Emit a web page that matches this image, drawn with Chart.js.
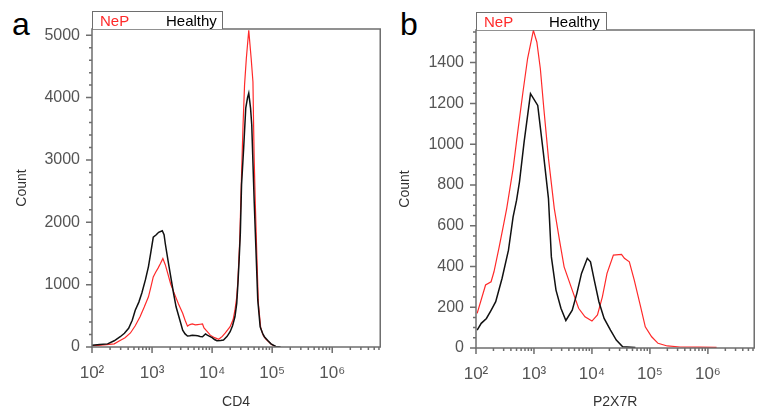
<!DOCTYPE html>
<html lang="en">
<head>
<meta charset="UTF-8">
<title>CD4 / P2X7R histograms</title>
<script src="https://cdn.jsdelivr.net/npm/chart.js"></script>
<style>
  body { margin: 0; width: 758px; height: 412px; overflow: hidden; background: #fff; position: relative;
         font-family: "Liberation Sans", Arial, sans-serif; }
  .panel { position: absolute; top: 0; height: 412px; }
  .tag { position: absolute; top: 8px; font-size: 32px; line-height: 32px; color: #000; }
  .legend { position: absolute; width: 129px; height: 17px; border: 1.5px solid #6e6e6e; border-bottom: none;
            font-size: 15px; line-height: 18px; background: #fff; }
  .legend span { position: absolute; top: 0; }
  .nep { color: #ff2a2a; }
</style>
</head>
<body>

<div class="tag" style="left:12px;">a</div>
<div class="tag" style="left:400px;">b</div>

<div class="panel" style="left:0; width:395px;"><canvas id="chartA" width="395" height="412"></canvas></div>
<div class="panel" style="left:390px; width:379px;"><canvas id="chartB" width="379" height="412"></canvas></div>

<div class="legend" style="left:92px; top:11px;"><span class="nep" style="left:7px;">NeP</span><span style="left:73px;">Healthy</span></div>
<div class="legend" style="left:476px; top:12px;"><span class="nep" style="left:7px;">NeP</span><span style="left:72px;">Healthy</span></div>

<script>
// ---- data (x given as log10 of intensity) ----
const cd4HealthyExp = [2.00, 2.13, 2.26, 2.37, 2.47, 2.54, 2.61, 2.67, 2.72, 2.78, 2.83, 2.89, 2.94, 2.98, 3.02, 3.07, 3.11, 3.17, 3.20, 3.22,
  3.27, 3.32, 3.36, 3.40, 3.46, 3.51, 3.55, 3.59, 3.63, 3.67, 3.72, 3.76, 3.80, 3.84, 3.89, 3.92, 3.96, 4.00, 4.04, 4.08,
  4.14, 4.19, 4.25, 4.30, 4.34, 4.38, 4.41, 4.43, 4.45, 4.47, 4.49, 4.525, 4.56, 4.59, 4.61, 4.625, 4.64, 4.66, 4.69, 4.70,
  4.73, 4.76, 4.80, 4.84, 4.87, 4.93, 4.98, 5.06, 5.14];
const cd4HealthyCount = [30, 40, 50, 100, 165, 220, 300, 430, 590, 720, 865, 1080, 1290, 1520, 1760, 1800, 1840, 1865, 1800, 1660,
  1360, 1075, 850, 645, 440, 270, 210, 176, 180, 190, 185, 180, 170, 165, 210, 190, 170, 150, 120, 100,
  105, 112, 170, 245, 340, 485, 700, 1020, 1400, 1830, 2600, 3185, 3830, 4000, 4070, 3950, 3830, 3560, 2650, 2355,
  1555, 755, 325, 220, 165, 100, 50, 8, 0];

const cd4NepExp = [2.00, 2.10, 2.20, 2.37, 2.46, 2.55, 2.64, 2.72, 2.80, 2.87, 2.94, 2.98, 3.02, 3.06, 3.10, 3.14, 3.18, 3.22, 3.26, 3.31,
  3.37, 3.44, 3.51, 3.55, 3.59, 3.63, 3.67, 3.72, 3.76, 3.80, 3.84, 3.865, 3.92, 3.97, 4.04, 4.11, 4.17, 4.22, 4.30, 4.35,
  4.38, 4.41, 4.43, 4.46, 4.49, 4.515, 4.54, 4.57, 4.61, 4.65, 4.68, 4.69, 4.70, 4.72, 4.75, 4.77, 4.81, 4.85, 4.89, 4.99,
  5.06, 5.12];
const cd4NepCount = [20, 25, 35, 50, 100, 150, 225, 340, 485, 640, 805, 960, 1125, 1200, 1265, 1340, 1420, 1320, 1185, 1010,
  860, 690, 540, 430, 335, 360, 370, 355, 360, 365, 370, 305, 245, 190, 150, 123, 170, 225, 325, 440,
  590, 800, 1075, 1715, 2760, 3560, 4200, 4630, 5080, 4630, 4250, 3610, 3030, 2275, 1300, 700, 300, 190, 130, 40,
  5, 0];

const p2x7rHealthyExp = [2.02, 2.09, 2.18, 2.26, 2.34, 2.45, 2.56, 2.64, 2.70, 2.75, 2.83, 2.94, 3.065, 3.16, 3.25, 3.30, 3.38, 3.465, 3.55, 3.66,
  3.74, 3.82, 3.92, 3.975, 4.04, 4.12, 4.21, 4.32, 4.42, 4.53, 4.75];
const p2x7rHealthyCount = [88, 121, 145, 185, 227, 342, 480, 643, 725, 815, 1011, 1248, 1190, 962, 733, 447, 284, 195, 135, 186,
  268, 366, 440, 423, 333, 227, 145, 88, 39, 6, 3];

const p2x7rNepExp = [2.02, 2.165, 2.26, 2.31, 2.40, 2.48, 2.53, 2.64, 2.72, 2.81, 2.89, 2.99, 3.05, 3.11, 3.17, 3.25, 3.35, 3.44, 3.52, 3.66,
  3.77, 3.88, 4.00, 4.095, 4.18, 4.26, 4.37, 4.51, 4.56, 4.645, 4.73, 4.84, 4.92, 5.03, 5.14, 5.30, 5.52, 5.85, 6.15];
const p2x7rNepCount = [170, 309, 325, 374, 496, 611, 685, 880, 1060, 1256, 1420, 1558, 1500, 1370, 1175, 930, 685, 529, 398, 284,
  195, 153, 132, 162, 251, 366, 456, 459, 440, 423, 333, 202, 104, 55, 23, 10, 5, 4, 3];

// ---- axes ----
const xMin = 100, xMax = 6.3e6;
const xDecades = [1e2, 1e3, 1e4, 1e5, 1e6];
const xTickLabels = ['10\u00B2', '10\u00B3', '10\u2074', '10\u2075', '10\u2076'];
const countMaxA = 5100, countStepA = 1000, countMinorA = 200;
const countMaxB = 1560, countStepB = 200, countMinorB = 50;

const red = '#ff2a2a', black = '#111';
const frameColor = '#6e6e6e';

function points(exps, counts) {
  return exps.map((e, i) => ({ x: Math.pow(10, e), y: counts[i] }));
}

// frame around the plot + long/short tick marks, all taken from the scales
const frameAndTicks = {
  id: 'frameAndTicks',
  afterDatasetsDraw(chart) {
    const { ctx, chartArea: a, scales: { x, y } } = chart;
    ctx.save();
    ctx.strokeStyle = frameColor;
    ctx.lineWidth = 1.5;
    ctx.strokeRect(a.left, a.top, a.right - a.left, a.bottom - a.top);
    ctx.beginPath();
    x.ticks.forEach(t => {
      const px = x.getPixelForValue(t.value);
      ctx.moveTo(px, a.bottom);
      ctx.lineTo(px, a.bottom + (t.major ? 6 : 3));
    });
    y.ticks.forEach(t => {
      const py = y.getPixelForValue(t.value);
      ctx.moveTo(a.left, py);
      ctx.lineTo(a.left - (t.major ? 6 : 3), py);
    });
    ctx.stroke();
    ctx.restore();
  }
};

function makeChart(id, healthy, nep, opts) {
  return new Chart(document.getElementById(id), {
    type: 'line',
    data: {
      datasets: [
        { label: 'Healthy', data: healthy, borderColor: black, borderWidth: 1.5, pointRadius: 0, tension: 0 },
        { label: 'NeP', data: nep, borderColor: red, borderWidth: 1.2, pointRadius: 0, tension: 0 }
      ]
    },
    options: {
      responsive: false,
      animation: false,
      layout: { padding: { top: opts.top, right: opts.right, left: 0, bottom: 0 } },
      plugins: { legend: { display: false }, tooltip: { enabled: false } },
      scales: {
        x: {
          type: 'logarithmic',
          min: xMin,
          max: xMax,
          border: { display: false },
          grid: { display: false, drawTicks: false },
          afterBuildTicks: scale => {
            const ticks = [];
            xDecades.forEach(d => {
              for (let m = 1; m <= 9; m++) {
                if (d * m <= xMax) ticks.push({ value: d * m, major: m === 1 });
              }
            });
            scale.ticks = ticks;
          },
          afterFit: scale => { scale.height = opts.xAxisH; },
          ticks: {
            autoSkip: false,
            maxRotation: 0,
            padding: 16,
            color: '#555',
            font: { family: 'Liberation Sans', size: 17 },
            callback: v => {
              const i = xDecades.indexOf(v);
              return i >= 0 ? xTickLabels[i] : '';
            }
          },
          title: { display: true, text: opts.xTitle, color: '#333', padding: { bottom: 1 },
                   font: { family: 'Liberation Sans', size: 14 } }
        },
        y: {
          min: 0,
          max: opts.yMax,
          border: { display: false },
          grid: { display: false, drawTicks: false },
          afterBuildTicks: scale => {
            const ticks = [];
            for (let v = 0; v <= opts.yMax; v += opts.yMinor) {
              ticks.push({ value: v, major: v % opts.yStep === 0 });
            }
            scale.ticks = ticks;
          },
          afterFit: scale => { scale.width = opts.yAxisW; },
          ticks: {
            autoSkip: false,
            padding: 12,
            color: '#555',
            font: { family: 'Liberation Sans', size: 16 },
            callback: v => (v % opts.yStep === 0 ? String(v) : '')
          },
          title: { display: true, text: 'Count', color: '#333', padding: { top: opts.yTitlePad },
                   font: { family: 'Liberation Sans', size: 14 } }
        }
      }
    },
    plugins: [frameAndTicks]
  });
}

makeChart('chartA', points(cd4HealthyExp, cd4HealthyCount), points(cd4NepExp, cd4NepCount), {
  top: 29, right: 8, xAxisH: 65, yAxisW: 92, yMax: countMaxA, yStep: countStepA, yMinor: countMinorA,
  xTitle: 'CD4', yTitlePad: 14
});

makeChart('chartB', points(p2x7rHealthyExp, p2x7rHealthyCount), points(p2x7rNepExp, p2x7rNepCount), {
  top: 30, right: 0, xAxisH: 64, yAxisW: 86, yMax: countMaxB, yStep: countStepB, yMinor: countMinorB,
  xTitle: 'P2X7R', yTitlePad: 7
});
</script>
</body>
</html>
